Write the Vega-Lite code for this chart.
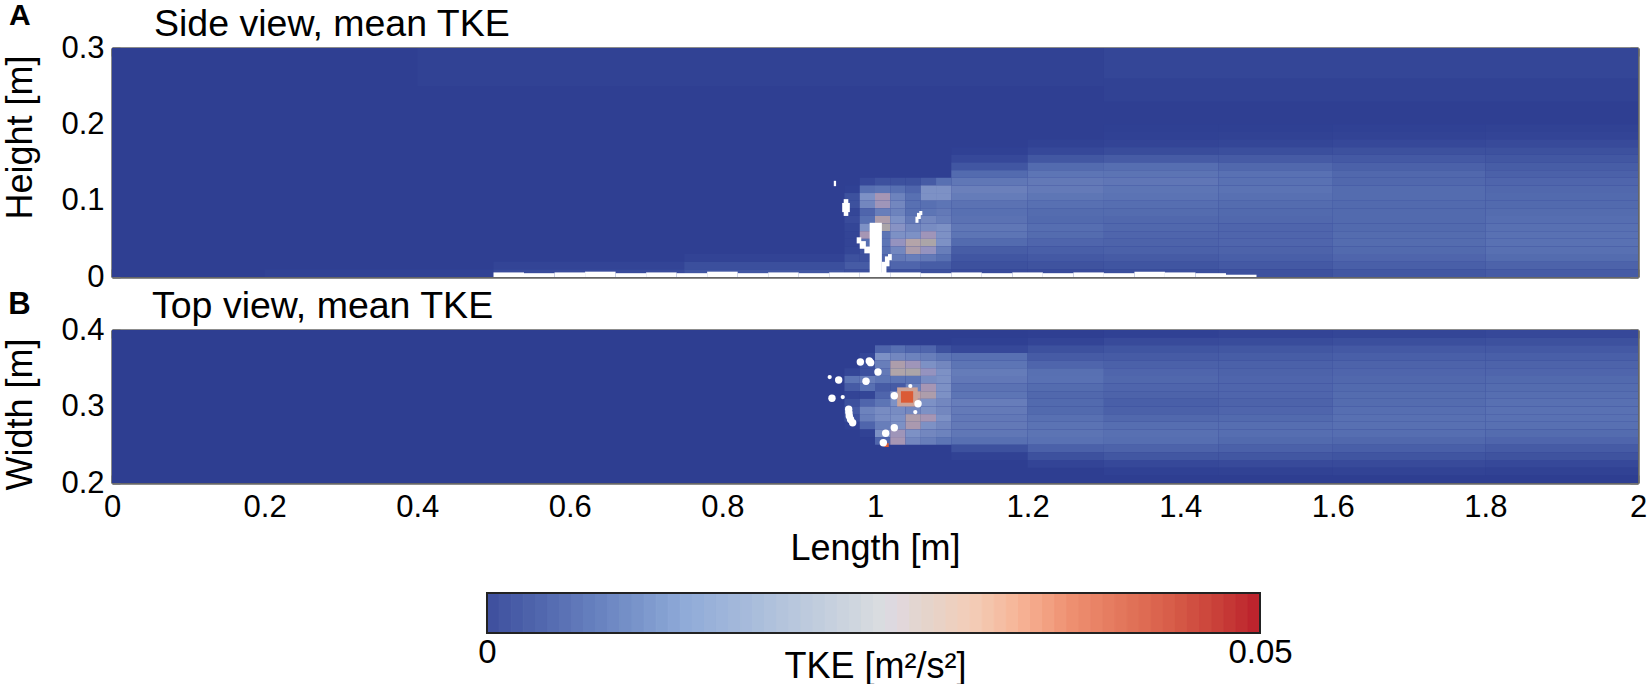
{"$schema":"https://vega.github.io/schema/vega-lite/v6.json","autosize":{"type":"pad"},"padding":{"left":2,"top":1,"right":0,"bottom":0},"background":"white","bounds":"flush","spacing":53,"resolve":{"scale":{"color":"independent","stroke":"independent"}},
"config":{"view":{"stroke":null},"font":"Liberation Sans","axis":{"grid":false,"domain":true,"domainColor":"#666666","domainWidth":2.5,"tickColor":"#707070","tickWidth":2,"tickSize":-8,"labelFont":"Liberation Sans","labelFontSize":31,"labelColor":"#000000","titleFont":"Liberation Sans","titleFontSize":36,"titleFontWeight":"normal","titleColor":"#000000","labelOverlap":false,"labelBound":false,"labelFlush":false,"zindex":1,"format":"~g"},"title":{"font":"Liberation Sans","fontSize":37.5,"fontWeight":"normal","color":"#000000","anchor":"start"}},
"datasets":{
"sideHeat":[
{"x":0,"x2":2,"y":0,"y2":0.3,"t":0.0003},
{"x":1.3,"x2":2,"y":0.23,"y2":0.26,"t":0.0006},{"x":1.3,"x2":2,"y":0.26,"y2":0.3,"t":0.001},{"x":0.4,"x2":1.3,"y":0.25,"y2":0.3,"t":0.0006},
{"x":0.2,"x2":0.5,"y":0,"y2":0.01,"t":0.0006},{"x":0.5,"x2":0.75,"y":0,"y2":0.01,"t":0.0015},{"x":0.5,"x2":0.75,"y":0.01,"y2":0.02,"t":0.0008},{"x":0.75,"x2":0.96,"y":0,"y2":0.01,"t":0.0025},{"x":0.75,"x2":0.96,"y":0.01,"y2":0.02,"t":0.0018},{"x":0.75,"x2":0.96,"y":0.02,"y2":0.03,"t":0.0007},
{"x":1.3,"x2":1.45,"y":0.19,"y2":0.2,"t":0.0004},{"x":1.45,"x2":1.6,"y":0.19,"y2":0.2,"t":0.0004},{"x":1.6,"x2":1.8,"y":0.19,"y2":0.2,"t":0.0005},{"x":1.8,"x2":2,"y":0.19,"y2":0.2,"t":0.0006},
{"x":1.3,"x2":1.45,"y":0.18,"y2":0.19,"t":0.0005},{"x":1.45,"x2":1.6,"y":0.18,"y2":0.19,"t":0.0006},{"x":1.6,"x2":1.8,"y":0.18,"y2":0.19,"t":0.0007},{"x":1.8,"x2":2,"y":0.18,"y2":0.19,"t":0.0008},
{"x":1.2,"x2":1.3,"y":0.17,"y2":0.18,"t":0.0006},{"x":1.3,"x2":1.45,"y":0.17,"y2":0.18,"t":0.0008},{"x":1.45,"x2":1.6,"y":0.17,"y2":0.18,"t":0.001},{"x":1.6,"x2":1.8,"y":0.17,"y2":0.18,"t":0.0012},{"x":1.8,"x2":2,"y":0.17,"y2":0.18,"t":0.0014},
{"x":1.1,"x2":1.2,"y":0.16,"y2":0.17,"t":0.0005},{"x":1.2,"x2":1.3,"y":0.16,"y2":0.17,"t":0.0012},{"x":1.3,"x2":1.45,"y":0.16,"y2":0.17,"t":0.0016},{"x":1.45,"x2":1.6,"y":0.16,"y2":0.17,"t":0.0018},{"x":1.6,"x2":1.8,"y":0.16,"y2":0.17,"t":0.002},{"x":1.8,"x2":2,"y":0.16,"y2":0.17,"t":0.002},
{"x":1.1,"x2":1.2,"y":0.15,"y2":0.16,"t":0.0012},{"x":1.2,"x2":1.3,"y":0.15,"y2":0.16,"t":0.0026},{"x":1.3,"x2":1.45,"y":0.15,"y2":0.16,"t":0.003},{"x":1.45,"x2":1.6,"y":0.15,"y2":0.16,"t":0.003},{"x":1.6,"x2":1.8,"y":0.15,"y2":0.16,"t":0.0028},{"x":1.8,"x2":2,"y":0.15,"y2":0.16,"t":0.0026},
{"x":1.1,"x2":1.2,"y":0.14,"y2":0.15,"t":0.0025},{"x":1.2,"x2":1.3,"y":0.14,"y2":0.15,"t":0.0045},{"x":1.3,"x2":1.45,"y":0.14,"y2":0.15,"t":0.0048},{"x":1.45,"x2":1.6,"y":0.14,"y2":0.15,"t":0.0042},{"x":1.6,"x2":1.8,"y":0.14,"y2":0.15,"t":0.0036},{"x":1.8,"x2":2,"y":0.14,"y2":0.15,"t":0.0032},
{"x":1.1,"x2":1.2,"y":0.13,"y2":0.14,"t":0.0045},{"x":1.2,"x2":1.3,"y":0.13,"y2":0.14,"t":0.006},{"x":1.3,"x2":1.45,"y":0.13,"y2":0.14,"t":0.0058},{"x":1.45,"x2":1.6,"y":0.13,"y2":0.14,"t":0.0052},{"x":1.6,"x2":1.8,"y":0.13,"y2":0.14,"t":0.0042},{"x":1.8,"x2":2,"y":0.13,"y2":0.14,"t":0.0036},
{"x":1.1,"x2":1.2,"y":0.12,"y2":0.13,"t":0.0065},{"x":1.2,"x2":1.3,"y":0.12,"y2":0.13,"t":0.007},{"x":1.3,"x2":1.45,"y":0.12,"y2":0.13,"t":0.0064},{"x":1.45,"x2":1.6,"y":0.12,"y2":0.13,"t":0.0052},{"x":1.6,"x2":1.8,"y":0.12,"y2":0.13,"t":0.0042},{"x":1.8,"x2":2,"y":0.12,"y2":0.13,"t":0.004},
{"x":1.1,"x2":1.2,"y":0.11,"y2":0.12,"t":0.0085},{"x":1.2,"x2":1.3,"y":0.11,"y2":0.12,"t":0.0072},{"x":1.3,"x2":1.45,"y":0.11,"y2":0.12,"t":0.006},{"x":1.45,"x2":1.6,"y":0.11,"y2":0.12,"t":0.0056},{"x":1.6,"x2":1.8,"y":0.11,"y2":0.12,"t":0.0046},{"x":1.8,"x2":2,"y":0.11,"y2":0.12,"t":0.0042},
{"x":1.1,"x2":1.2,"y":0.1,"y2":0.11,"t":0.0075},{"x":1.2,"x2":1.3,"y":0.1,"y2":0.11,"t":0.0062},{"x":1.3,"x2":1.45,"y":0.1,"y2":0.11,"t":0.0056},{"x":1.45,"x2":1.6,"y":0.1,"y2":0.11,"t":0.005},{"x":1.6,"x2":1.8,"y":0.1,"y2":0.11,"t":0.0046},{"x":1.8,"x2":2,"y":0.1,"y2":0.11,"t":0.0044},
{"x":1.1,"x2":1.2,"y":0.09,"y2":0.1,"t":0.0055},{"x":1.2,"x2":1.3,"y":0.09,"y2":0.1,"t":0.005},{"x":1.3,"x2":1.45,"y":0.09,"y2":0.1,"t":0.0048},{"x":1.45,"x2":1.6,"y":0.09,"y2":0.1,"t":0.0046},{"x":1.6,"x2":1.8,"y":0.09,"y2":0.1,"t":0.0044},{"x":1.8,"x2":2,"y":0.09,"y2":0.1,"t":0.0044},
{"x":1.1,"x2":1.2,"y":0.08,"y2":0.09,"t":0.005},{"x":1.2,"x2":1.3,"y":0.08,"y2":0.09,"t":0.0046},{"x":1.3,"x2":1.45,"y":0.08,"y2":0.09,"t":0.0046},{"x":1.45,"x2":1.6,"y":0.08,"y2":0.09,"t":0.0044},{"x":1.6,"x2":1.8,"y":0.08,"y2":0.09,"t":0.0044},{"x":1.8,"x2":2,"y":0.08,"y2":0.09,"t":0.0046},
{"x":1.1,"x2":1.2,"y":0.07,"y2":0.08,"t":0.0055},{"x":1.2,"x2":1.3,"y":0.07,"y2":0.08,"t":0.0044},{"x":1.3,"x2":1.45,"y":0.07,"y2":0.08,"t":0.0042},{"x":1.45,"x2":1.6,"y":0.07,"y2":0.08,"t":0.0042},{"x":1.6,"x2":1.8,"y":0.07,"y2":0.08,"t":0.0044},{"x":1.8,"x2":2,"y":0.07,"y2":0.08,"t":0.0048},
{"x":1.1,"x2":1.2,"y":0.06,"y2":0.07,"t":0.0065},{"x":1.2,"x2":1.3,"y":0.06,"y2":0.07,"t":0.0048},{"x":1.3,"x2":1.45,"y":0.06,"y2":0.07,"t":0.0042},{"x":1.45,"x2":1.6,"y":0.06,"y2":0.07,"t":0.004},{"x":1.6,"x2":1.8,"y":0.06,"y2":0.07,"t":0.0044},{"x":1.8,"x2":2,"y":0.06,"y2":0.07,"t":0.005},
{"x":1.1,"x2":1.2,"y":0.05,"y2":0.06,"t":0.006},{"x":1.2,"x2":1.3,"y":0.05,"y2":0.06,"t":0.0046},{"x":1.3,"x2":1.45,"y":0.05,"y2":0.06,"t":0.004},{"x":1.45,"x2":1.6,"y":0.05,"y2":0.06,"t":0.004},{"x":1.6,"x2":1.8,"y":0.05,"y2":0.06,"t":0.0046},{"x":1.8,"x2":2,"y":0.05,"y2":0.06,"t":0.0052},
{"x":1.1,"x2":1.2,"y":0.04,"y2":0.05,"t":0.0045},{"x":1.2,"x2":1.3,"y":0.04,"y2":0.05,"t":0.004},{"x":1.3,"x2":1.45,"y":0.04,"y2":0.05,"t":0.0038},{"x":1.45,"x2":1.6,"y":0.04,"y2":0.05,"t":0.004},{"x":1.6,"x2":1.8,"y":0.04,"y2":0.05,"t":0.0046},{"x":1.8,"x2":2,"y":0.04,"y2":0.05,"t":0.0052},
{"x":1.1,"x2":1.2,"y":0.03,"y2":0.04,"t":0.0032},{"x":1.2,"x2":1.3,"y":0.03,"y2":0.04,"t":0.0034},{"x":1.3,"x2":1.45,"y":0.03,"y2":0.04,"t":0.0036},{"x":1.45,"x2":1.6,"y":0.03,"y2":0.04,"t":0.0038},{"x":1.6,"x2":1.8,"y":0.03,"y2":0.04,"t":0.0044},{"x":1.8,"x2":2,"y":0.03,"y2":0.04,"t":0.005},
{"x":1.1,"x2":1.2,"y":0.02,"y2":0.03,"t":0.0025},{"x":1.2,"x2":1.3,"y":0.02,"y2":0.03,"t":0.0028},{"x":1.3,"x2":1.45,"y":0.02,"y2":0.03,"t":0.003},{"x":1.45,"x2":1.6,"y":0.02,"y2":0.03,"t":0.0034},{"x":1.6,"x2":1.8,"y":0.02,"y2":0.03,"t":0.004},{"x":1.8,"x2":2,"y":0.02,"y2":0.03,"t":0.0046},
{"x":1.1,"x2":1.2,"y":0.01,"y2":0.02,"t":0.002},{"x":1.2,"x2":1.3,"y":0.01,"y2":0.02,"t":0.0022},{"x":1.3,"x2":1.45,"y":0.01,"y2":0.02,"t":0.0024},{"x":1.45,"x2":1.6,"y":0.01,"y2":0.02,"t":0.0028},{"x":1.6,"x2":1.8,"y":0.01,"y2":0.02,"t":0.0034},{"x":1.8,"x2":2,"y":0.01,"y2":0.02,"t":0.0038},
{"x":1.1,"x2":1.2,"y":0,"y2":0.01,"t":0.0015},{"x":1.2,"x2":1.3,"y":0,"y2":0.01,"t":0.0015},{"x":1.3,"x2":1.45,"y":0,"y2":0.01,"t":0.0018},{"x":1.45,"x2":1.6,"y":0,"y2":0.01,"t":0.002},{"x":1.6,"x2":1.8,"y":0,"y2":0.01,"t":0.0026},{"x":1.8,"x2":2,"y":0,"y2":0.01,"t":0.003},
{"x":0.98,"x2":1,"y":0.12,"y2":0.13,"t":0.0012},{"x":1,"x2":1.02,"y":0.12,"y2":0.13,"t":0.002},{"x":1.02,"x2":1.04,"y":0.12,"y2":0.13,"t":0.002},{"x":1.04,"x2":1.06,"y":0.12,"y2":0.13,"t":0.002},{"x":1.06,"x2":1.08,"y":0.12,"y2":0.13,"t":0.003},{"x":1.08,"x2":1.1,"y":0.12,"y2":0.13,"t":0.005},
{"x":0.96,"x2":0.98,"y":0.11,"y2":0.12,"t":0.0005},{"x":0.98,"x2":1,"y":0.11,"y2":0.12,"t":0.005},{"x":1,"x2":1.02,"y":0.11,"y2":0.12,"t":0.006},{"x":1.02,"x2":1.04,"y":0.11,"y2":0.12,"t":0.005},{"x":1.04,"x2":1.06,"y":0.11,"y2":0.12,"t":0.004},{"x":1.06,"x2":1.08,"y":0.11,"y2":0.12,"t":0.012},{"x":1.08,"x2":1.1,"y":0.11,"y2":0.12,"t":0.012},
{"x":0.96,"x2":0.98,"y":0.1,"y2":0.11,"t":0.002},{"x":0.98,"x2":1,"y":0.1,"y2":0.11,"t":0.012},{"x":1,"x2":1.02,"y":0.1,"y2":0.11,"t":0.016},{"x":1.02,"x2":1.04,"y":0.1,"y2":0.11,"t":0.009},{"x":1.04,"x2":1.06,"y":0.1,"y2":0.11,"t":0.005},{"x":1.06,"x2":1.08,"y":0.1,"y2":0.11,"t":0.012},{"x":1.08,"x2":1.1,"y":0.1,"y2":0.11,"t":0.012},
{"x":0.96,"x2":0.98,"y":0.09,"y2":0.1,"t":0.002},{"x":0.98,"x2":1,"y":0.09,"y2":0.1,"t":0.01},{"x":1,"x2":1.02,"y":0.09,"y2":0.1,"t":0.015},{"x":1.02,"x2":1.04,"y":0.09,"y2":0.1,"t":0.01},{"x":1.04,"x2":1.06,"y":0.09,"y2":0.1,"t":0.005},{"x":1.06,"x2":1.08,"y":0.09,"y2":0.1,"t":0.005},{"x":1.08,"x2":1.1,"y":0.09,"y2":0.1,"t":0.006},
{"x":0.96,"x2":0.98,"y":0.08,"y2":0.09,"t":0.001},{"x":0.98,"x2":1,"y":0.08,"y2":0.09,"t":0.004},{"x":1,"x2":1.02,"y":0.08,"y2":0.09,"t":0.008},{"x":1.02,"x2":1.04,"y":0.08,"y2":0.09,"t":0.009},{"x":1.04,"x2":1.06,"y":0.08,"y2":0.09,"t":0.005},{"x":1.06,"x2":1.08,"y":0.08,"y2":0.09,"t":0.006},{"x":1.08,"x2":1.1,"y":0.08,"y2":0.09,"t":0.007},
{"x":0.96,"x2":0.98,"y":0.07,"y2":0.08,"t":0.0015},{"x":0.98,"x2":1,"y":0.07,"y2":0.08,"t":0.005},{"x":1,"x2":1.02,"y":0.07,"y2":0.08,"t":0.018},{"x":1.02,"x2":1.04,"y":0.07,"y2":0.08,"t":0.012},{"x":1.04,"x2":1.06,"y":0.07,"y2":0.08,"t":0.007},{"x":1.06,"x2":1.08,"y":0.07,"y2":0.08,"t":0.01},{"x":1.08,"x2":1.1,"y":0.07,"y2":0.08,"t":0.008},
{"x":0.96,"x2":0.98,"y":0.06,"y2":0.07,"t":0.001},{"x":0.98,"x2":1,"y":0.06,"y2":0.07,"t":0.012},{"x":1,"x2":1.02,"y":0.06,"y2":0.07,"t":0.02},{"x":1.02,"x2":1.04,"y":0.06,"y2":0.07,"t":0.013},{"x":1.04,"x2":1.06,"y":0.06,"y2":0.07,"t":0.01},{"x":1.06,"x2":1.08,"y":0.06,"y2":0.07,"t":0.011},{"x":1.08,"x2":1.1,"y":0.06,"y2":0.07,"t":0.012},
{"x":0.96,"x2":0.98,"y":0.05,"y2":0.06,"t":0.0008},{"x":0.98,"x2":1,"y":0.05,"y2":0.06,"t":0.016},{"x":1,"x2":1.02,"y":0.05,"y2":0.06,"t":0.006},{"x":1.02,"x2":1.04,"y":0.05,"y2":0.06,"t":0.012},{"x":1.04,"x2":1.06,"y":0.05,"y2":0.06,"t":0.012},{"x":1.06,"x2":1.08,"y":0.05,"y2":0.06,"t":0.015},{"x":1.08,"x2":1.1,"y":0.05,"y2":0.06,"t":0.012},
{"x":0.96,"x2":0.98,"y":0.04,"y2":0.05,"t":0.0008},{"x":0.98,"x2":1,"y":0.04,"y2":0.05,"t":0.005},{"x":1,"x2":1.02,"y":0.04,"y2":0.05,"t":0.006},{"x":1.02,"x2":1.04,"y":0.04,"y2":0.05,"t":0.014},{"x":1.04,"x2":1.06,"y":0.04,"y2":0.05,"t":0.022},{"x":1.06,"x2":1.08,"y":0.04,"y2":0.05,"t":0.02},{"x":1.08,"x2":1.1,"y":0.04,"y2":0.05,"t":0.012},
{"x":0.96,"x2":0.98,"y":0.03,"y2":0.04,"t":0.001},{"x":0.98,"x2":1,"y":0.03,"y2":0.04,"t":0.002},{"x":1,"x2":1.02,"y":0.03,"y2":0.04,"t":0.005},{"x":1.02,"x2":1.04,"y":0.03,"y2":0.04,"t":0.01},{"x":1.04,"x2":1.06,"y":0.03,"y2":0.04,"t":0.018},{"x":1.06,"x2":1.08,"y":0.03,"y2":0.04,"t":0.014},{"x":1.08,"x2":1.1,"y":0.03,"y2":0.04,"t":0.008},
{"x":0.96,"x2":0.98,"y":0.02,"y2":0.03,"t":0.002},{"x":0.98,"x2":1,"y":0.02,"y2":0.03,"t":0.002},{"x":1,"x2":1.02,"y":0.02,"y2":0.03,"t":0.004},{"x":1.02,"x2":1.04,"y":0.02,"y2":0.03,"t":0.007},{"x":1.04,"x2":1.06,"y":0.02,"y2":0.03,"t":0.008},{"x":1.06,"x2":1.08,"y":0.02,"y2":0.03,"t":0.007},{"x":1.08,"x2":1.1,"y":0.02,"y2":0.03,"t":0.005},
{"x":0.96,"x2":1.02,"y":0.01,"y2":0.02,"t":0.003},{"x":1.02,"x2":1.06,"y":0.01,"y2":0.02,"t":0.004},{"x":1.06,"x2":1.1,"y":0.01,"y2":0.02,"t":0.0032},{"x":0.96,"x2":1.1,"y":0,"y2":0.01,"t":0.002}
],
"sideSolid":[
{"x":0.5,"x2":0.54,"y":0,"y2":0.006},{"x":0.54,"x2":0.58,"y":0,"y2":0.005},{"x":0.58,"x2":0.62,"y":0,"y2":0.006},{"x":0.62,"x2":0.66,"y":0,"y2":0.007},{"x":0.66,"x2":0.7,"y":0,"y2":0.005},{"x":0.7,"x2":0.74,"y":0,"y2":0.006},{"x":0.74,"x2":0.78,"y":0,"y2":0.005},{"x":0.78,"x2":0.82,"y":0,"y2":0.007},{"x":0.82,"x2":0.86,"y":0,"y2":0.005},{"x":0.86,"x2":0.9,"y":0,"y2":0.006},{"x":0.9,"x2":0.94,"y":0,"y2":0.005},{"x":0.94,"x2":0.98,"y":0,"y2":0.006},{"x":0.98,"x2":1.02,"y":0,"y2":0.006},{"x":1.02,"x2":1.06,"y":0,"y2":0.006},{"x":1.06,"x2":1.1,"y":0,"y2":0.005},{"x":1.1,"x2":1.14,"y":0,"y2":0.006},{"x":1.14,"x2":1.18,"y":0,"y2":0.005},{"x":1.18,"x2":1.22,"y":0,"y2":0.006},{"x":1.22,"x2":1.26,"y":0,"y2":0.005},{"x":1.26,"x2":1.3,"y":0,"y2":0.006},{"x":1.3,"x2":1.34,"y":0,"y2":0.005},{"x":1.34,"x2":1.38,"y":0,"y2":0.007},{"x":1.38,"x2":1.42,"y":0,"y2":0.006},{"x":1.42,"x2":1.46,"y":0,"y2":0.005},{"x":1.46,"x2":1.5,"y":0,"y2":0.003},
{"x":0.993,"x2":1.009,"y":0,"y2":0.071},{"x":0.976,"x2":0.982,"y":0.044,"y2":0.052},{"x":0.98,"x2":0.988,"y":0.037,"y2":0.047},{"x":0.986,"x2":0.994,"y":0.031,"y2":0.04},{"x":1.009,"x2":1.015,"y":0.005,"y2":0.02},{"x":1.013,"x2":1.019,"y":0.014,"y2":0.027},{"x":1.017,"x2":1.022,"y":0.022,"y2":0.03},{"x":0.959,"x2":0.965,"y":0.08,"y2":0.102},{"x":0.957,"x2":0.967,"y":0.085,"y2":0.097},{"x":1.053,"x2":1.057,"y":0.071,"y2":0.079},{"x":1.055,"x2":1.06,"y":0.076,"y2":0.084},{"x":1.058,"x2":1.062,"y":0.081,"y2":0.0865},{"x":0.946,"x2":0.949,"y":0.119,"y2":0.126}
],
"topHeat":[
{"x":0,"x2":2,"y":0.2,"y2":0.4,"t":0.0002},
{"x":1.2,"x2":1.3,"y":0.39,"y2":0.4,"t":0.0003},{"x":1.3,"x2":1.45,"y":0.39,"y2":0.4,"t":0.0005},{"x":1.45,"x2":1.6,"y":0.39,"y2":0.4,"t":0.0008},{"x":1.6,"x2":1.8,"y":0.39,"y2":0.4,"t":0.001},{"x":1.8,"x2":2,"y":0.39,"y2":0.4,"t":0.0012},
{"x":1.1,"x2":1.2,"y":0.38,"y2":0.39,"t":0.0004},{"x":1.2,"x2":1.3,"y":0.38,"y2":0.39,"t":0.0008},{"x":1.3,"x2":1.45,"y":0.38,"y2":0.39,"t":0.0014},{"x":1.45,"x2":1.6,"y":0.38,"y2":0.39,"t":0.0016},{"x":1.6,"x2":1.8,"y":0.38,"y2":0.39,"t":0.0018},{"x":1.8,"x2":2,"y":0.38,"y2":0.39,"t":0.002},
{"x":1.1,"x2":1.2,"y":0.37,"y2":0.38,"t":0.0012},{"x":1.2,"x2":1.3,"y":0.37,"y2":0.38,"t":0.002},{"x":1.3,"x2":1.45,"y":0.37,"y2":0.38,"t":0.0024},{"x":1.45,"x2":1.6,"y":0.37,"y2":0.38,"t":0.0026},{"x":1.6,"x2":1.8,"y":0.37,"y2":0.38,"t":0.0028},{"x":1.8,"x2":2,"y":0.37,"y2":0.38,"t":0.0028},
{"x":1.1,"x2":1.2,"y":0.36,"y2":0.37,"t":0.005},{"x":1.2,"x2":1.3,"y":0.36,"y2":0.37,"t":0.003},{"x":1.3,"x2":1.45,"y":0.36,"y2":0.37,"t":0.003},{"x":1.45,"x2":1.6,"y":0.36,"y2":0.37,"t":0.0032},{"x":1.6,"x2":1.8,"y":0.36,"y2":0.37,"t":0.0034},{"x":1.8,"x2":2,"y":0.36,"y2":0.37,"t":0.0034},
{"x":1.1,"x2":1.2,"y":0.35,"y2":0.36,"t":0.006},{"x":1.2,"x2":1.3,"y":0.35,"y2":0.36,"t":0.004},{"x":1.3,"x2":1.45,"y":0.35,"y2":0.36,"t":0.0036},{"x":1.45,"x2":1.6,"y":0.35,"y2":0.36,"t":0.0036},{"x":1.6,"x2":1.8,"y":0.35,"y2":0.36,"t":0.0038},{"x":1.8,"x2":2,"y":0.35,"y2":0.36,"t":0.0038},
{"x":1.1,"x2":1.2,"y":0.34,"y2":0.35,"t":0.0075},{"x":1.2,"x2":1.3,"y":0.34,"y2":0.35,"t":0.005},{"x":1.3,"x2":1.45,"y":0.34,"y2":0.35,"t":0.004},{"x":1.45,"x2":1.6,"y":0.34,"y2":0.35,"t":0.0038},{"x":1.6,"x2":1.8,"y":0.34,"y2":0.35,"t":0.004},{"x":1.8,"x2":2,"y":0.34,"y2":0.35,"t":0.004},
{"x":1.1,"x2":1.2,"y":0.33,"y2":0.34,"t":0.0068},{"x":1.2,"x2":1.3,"y":0.33,"y2":0.34,"t":0.0052},{"x":1.3,"x2":1.45,"y":0.33,"y2":0.34,"t":0.0042},{"x":1.45,"x2":1.6,"y":0.33,"y2":0.34,"t":0.004},{"x":1.6,"x2":1.8,"y":0.33,"y2":0.34,"t":0.0042},{"x":1.8,"x2":2,"y":0.33,"y2":0.34,"t":0.0044},
{"x":1.1,"x2":1.2,"y":0.32,"y2":0.33,"t":0.0055},{"x":1.2,"x2":1.3,"y":0.32,"y2":0.33,"t":0.0046},{"x":1.3,"x2":1.45,"y":0.32,"y2":0.33,"t":0.004},{"x":1.45,"x2":1.6,"y":0.32,"y2":0.33,"t":0.004},{"x":1.6,"x2":1.8,"y":0.32,"y2":0.33,"t":0.0044},{"x":1.8,"x2":2,"y":0.32,"y2":0.33,"t":0.0046},
{"x":1.1,"x2":1.2,"y":0.31,"y2":0.32,"t":0.006},{"x":1.2,"x2":1.3,"y":0.31,"y2":0.32,"t":0.0042},{"x":1.3,"x2":1.45,"y":0.31,"y2":0.32,"t":0.0038},{"x":1.45,"x2":1.6,"y":0.31,"y2":0.32,"t":0.004},{"x":1.6,"x2":1.8,"y":0.31,"y2":0.32,"t":0.0046},{"x":1.8,"x2":2,"y":0.31,"y2":0.32,"t":0.0048},
{"x":1.1,"x2":1.2,"y":0.3,"y2":0.31,"t":0.0078},{"x":1.2,"x2":1.3,"y":0.3,"y2":0.31,"t":0.0044},{"x":1.3,"x2":1.45,"y":0.3,"y2":0.31,"t":0.0034},{"x":1.45,"x2":1.6,"y":0.3,"y2":0.31,"t":0.0038},{"x":1.6,"x2":1.8,"y":0.3,"y2":0.31,"t":0.0046},{"x":1.8,"x2":2,"y":0.3,"y2":0.31,"t":0.005},
{"x":1.1,"x2":1.2,"y":0.29,"y2":0.3,"t":0.0072},{"x":1.2,"x2":1.3,"y":0.29,"y2":0.3,"t":0.0044},{"x":1.3,"x2":1.45,"y":0.29,"y2":0.3,"t":0.0036},{"x":1.45,"x2":1.6,"y":0.29,"y2":0.3,"t":0.004},{"x":1.6,"x2":1.8,"y":0.29,"y2":0.3,"t":0.0048},{"x":1.8,"x2":2,"y":0.29,"y2":0.3,"t":0.0052},
{"x":1.1,"x2":1.2,"y":0.28,"y2":0.29,"t":0.0068},{"x":1.2,"x2":1.3,"y":0.28,"y2":0.29,"t":0.005},{"x":1.3,"x2":1.45,"y":0.28,"y2":0.29,"t":0.0042},{"x":1.45,"x2":1.6,"y":0.28,"y2":0.29,"t":0.0044},{"x":1.6,"x2":1.8,"y":0.28,"y2":0.29,"t":0.005},{"x":1.8,"x2":2,"y":0.28,"y2":0.29,"t":0.0052},
{"x":1.1,"x2":1.2,"y":0.27,"y2":0.28,"t":0.007},{"x":1.2,"x2":1.3,"y":0.27,"y2":0.28,"t":0.0056},{"x":1.3,"x2":1.45,"y":0.27,"y2":0.28,"t":0.0048},{"x":1.45,"x2":1.6,"y":0.27,"y2":0.28,"t":0.0048},{"x":1.6,"x2":1.8,"y":0.27,"y2":0.28,"t":0.005},{"x":1.8,"x2":2,"y":0.27,"y2":0.28,"t":0.005},
{"x":1.1,"x2":1.2,"y":0.26,"y2":0.27,"t":0.0065},{"x":1.2,"x2":1.3,"y":0.26,"y2":0.27,"t":0.0058},{"x":1.3,"x2":1.45,"y":0.26,"y2":0.27,"t":0.005},{"x":1.45,"x2":1.6,"y":0.26,"y2":0.27,"t":0.0048},{"x":1.6,"x2":1.8,"y":0.26,"y2":0.27,"t":0.0048},{"x":1.8,"x2":2,"y":0.26,"y2":0.27,"t":0.0046},
{"x":1.1,"x2":1.2,"y":0.25,"y2":0.26,"t":0.005},{"x":1.2,"x2":1.3,"y":0.25,"y2":0.26,"t":0.0052},{"x":1.3,"x2":1.45,"y":0.25,"y2":0.26,"t":0.0048},{"x":1.45,"x2":1.6,"y":0.25,"y2":0.26,"t":0.0044},{"x":1.6,"x2":1.8,"y":0.25,"y2":0.26,"t":0.0042},{"x":1.8,"x2":2,"y":0.25,"y2":0.26,"t":0.004},
{"x":1.1,"x2":1.2,"y":0.24,"y2":0.25,"t":0.002},{"x":1.2,"x2":1.3,"y":0.24,"y2":0.25,"t":0.0036},{"x":1.3,"x2":1.45,"y":0.24,"y2":0.25,"t":0.0038},{"x":1.45,"x2":1.6,"y":0.24,"y2":0.25,"t":0.0036},{"x":1.6,"x2":1.8,"y":0.24,"y2":0.25,"t":0.0034},{"x":1.8,"x2":2,"y":0.24,"y2":0.25,"t":0.003},
{"x":1.1,"x2":1.2,"y":0.23,"y2":0.24,"t":0.0006},{"x":1.2,"x2":1.3,"y":0.23,"y2":0.24,"t":0.002},{"x":1.3,"x2":1.45,"y":0.23,"y2":0.24,"t":0.0026},{"x":1.45,"x2":1.6,"y":0.23,"y2":0.24,"t":0.0026},{"x":1.6,"x2":1.8,"y":0.23,"y2":0.24,"t":0.0024},{"x":1.8,"x2":2,"y":0.23,"y2":0.24,"t":0.0022},
{"x":1.2,"x2":1.3,"y":0.22,"y2":0.23,"t":0.0008},{"x":1.3,"x2":1.45,"y":0.22,"y2":0.23,"t":0.0012},{"x":1.45,"x2":1.6,"y":0.22,"y2":0.23,"t":0.0014},{"x":1.6,"x2":1.8,"y":0.22,"y2":0.23,"t":0.0014},{"x":1.8,"x2":2,"y":0.22,"y2":0.23,"t":0.0012},
{"x":1.3,"x2":1.45,"y":0.21,"y2":0.22,"t":0.0005},{"x":1.45,"x2":1.6,"y":0.21,"y2":0.22,"t":0.0006},{"x":1.6,"x2":1.8,"y":0.21,"y2":0.22,"t":0.0007},{"x":1.8,"x2":2,"y":0.21,"y2":0.22,"t":0.0006},
{"x":1,"x2":1.02,"y":0.37,"y2":0.38,"t":0.004},{"x":1.02,"x2":1.04,"y":0.37,"y2":0.38,"t":0.005},{"x":1.04,"x2":1.06,"y":0.37,"y2":0.38,"t":0.004},{"x":1.06,"x2":1.08,"y":0.37,"y2":0.38,"t":0.004},{"x":1.08,"x2":1.1,"y":0.37,"y2":0.38,"t":0.002},
{"x":0.98,"x2":1,"y":0.36,"y2":0.37,"t":0.001},{"x":1,"x2":1.02,"y":0.36,"y2":0.37,"t":0.012},{"x":1.02,"x2":1.04,"y":0.36,"y2":0.37,"t":0.01},{"x":1.04,"x2":1.06,"y":0.36,"y2":0.37,"t":0.009},{"x":1.06,"x2":1.08,"y":0.36,"y2":0.37,"t":0.008},{"x":1.08,"x2":1.1,"y":0.36,"y2":0.37,"t":0.006},
{"x":0.98,"x2":1,"y":0.35,"y2":0.36,"t":0.002},{"x":1,"x2":1.02,"y":0.35,"y2":0.36,"t":0.008},{"x":1.02,"x2":1.04,"y":0.35,"y2":0.36,"t":0.018},{"x":1.04,"x2":1.06,"y":0.35,"y2":0.36,"t":0.015},{"x":1.06,"x2":1.08,"y":0.35,"y2":0.36,"t":0.012},{"x":1.08,"x2":1.1,"y":0.35,"y2":0.36,"t":0.01},
{"x":0.96,"x2":0.98,"y":0.34,"y2":0.35,"t":0.001},{"x":0.98,"x2":1,"y":0.34,"y2":0.35,"t":0.002},{"x":1,"x2":1.02,"y":0.34,"y2":0.35,"t":0.007},{"x":1.02,"x2":1.04,"y":0.34,"y2":0.35,"t":0.021},{"x":1.04,"x2":1.06,"y":0.34,"y2":0.35,"t":0.02},{"x":1.06,"x2":1.08,"y":0.34,"y2":0.35,"t":0.014},{"x":1.08,"x2":1.1,"y":0.34,"y2":0.35,"t":0.012},
{"x":0.96,"x2":0.98,"y":0.33,"y2":0.34,"t":0.006},{"x":0.98,"x2":1,"y":0.33,"y2":0.34,"t":0.008},{"x":1,"x2":1.02,"y":0.33,"y2":0.34,"t":0.006},{"x":1.02,"x2":1.04,"y":0.33,"y2":0.34,"t":0.006},{"x":1.04,"x2":1.06,"y":0.33,"y2":0.34,"t":0.006},{"x":1.06,"x2":1.08,"y":0.33,"y2":0.34,"t":0.011},{"x":1.08,"x2":1.1,"y":0.33,"y2":0.34,"t":0.012},
{"x":0.96,"x2":0.98,"y":0.32,"y2":0.33,"t":0.003},{"x":0.98,"x2":1,"y":0.32,"y2":0.33,"t":0.005},{"x":1,"x2":1.02,"y":0.32,"y2":0.33,"t":0.003},{"x":1.02,"x2":1.04,"y":0.32,"y2":0.33,"t":0.003},{"x":1.04,"x2":1.06,"y":0.32,"y2":0.33,"t":0.009},{"x":1.06,"x2":1.08,"y":0.32,"y2":0.33,"t":0.016},{"x":1.08,"x2":1.1,"y":0.32,"y2":0.33,"t":0.012},
{"x":0.96,"x2":0.98,"y":0.31,"y2":0.32,"t":0.0008},{"x":0.98,"x2":1,"y":0.31,"y2":0.32,"t":0.001},{"x":1,"x2":1.02,"y":0.31,"y2":0.32,"t":0.004},{"x":1.02,"x2":1.04,"y":0.31,"y2":0.32,"t":0.012},{"x":1.04,"x2":1.06,"y":0.31,"y2":0.32,"t":0.026},{"x":1.06,"x2":1.08,"y":0.31,"y2":0.32,"t":0.018},{"x":1.08,"x2":1.1,"y":0.31,"y2":0.32,"t":0.012},
{"x":0.96,"x2":0.98,"y":0.3,"y2":0.31,"t":0.002},{"x":0.98,"x2":1,"y":0.3,"y2":0.31,"t":0.004},{"x":1,"x2":1.02,"y":0.3,"y2":0.31,"t":0.006},{"x":1.02,"x2":1.04,"y":0.3,"y2":0.31,"t":0.012},{"x":1.04,"x2":1.06,"y":0.3,"y2":0.31,"t":0.018},{"x":1.06,"x2":1.08,"y":0.3,"y2":0.31,"t":0.012},{"x":1.08,"x2":1.1,"y":0.3,"y2":0.31,"t":0.01},
{"x":0.96,"x2":0.98,"y":0.29,"y2":0.3,"t":0.003},{"x":0.98,"x2":1,"y":0.29,"y2":0.3,"t":0.009},{"x":1,"x2":1.02,"y":0.29,"y2":0.3,"t":0.011},{"x":1.02,"x2":1.04,"y":0.29,"y2":0.3,"t":0.011},{"x":1.04,"x2":1.06,"y":0.29,"y2":0.3,"t":0.01},{"x":1.06,"x2":1.08,"y":0.29,"y2":0.3,"t":0.012},{"x":1.08,"x2":1.1,"y":0.29,"y2":0.3,"t":0.01},
{"x":0.96,"x2":0.98,"y":0.28,"y2":0.29,"t":0.002},{"x":0.98,"x2":1,"y":0.28,"y2":0.29,"t":0.008},{"x":1,"x2":1.02,"y":0.28,"y2":0.29,"t":0.011},{"x":1.02,"x2":1.04,"y":0.28,"y2":0.29,"t":0.012},{"x":1.04,"x2":1.06,"y":0.28,"y2":0.29,"t":0.018},{"x":1.06,"x2":1.08,"y":0.28,"y2":0.29,"t":0.016},{"x":1.08,"x2":1.1,"y":0.28,"y2":0.29,"t":0.012},
{"x":0.96,"x2":0.98,"y":0.27,"y2":0.28,"t":0.0005},{"x":0.98,"x2":1,"y":0.27,"y2":0.28,"t":0.004},{"x":1,"x2":1.02,"y":0.27,"y2":0.28,"t":0.008},{"x":1.02,"x2":1.04,"y":0.27,"y2":0.28,"t":0.012},{"x":1.04,"x2":1.06,"y":0.27,"y2":0.28,"t":0.017},{"x":1.06,"x2":1.08,"y":0.27,"y2":0.28,"t":0.012},{"x":1.08,"x2":1.1,"y":0.27,"y2":0.28,"t":0.01},
{"x":0.98,"x2":1,"y":0.26,"y2":0.27,"t":0.0006},{"x":1,"x2":1.02,"y":0.26,"y2":0.27,"t":0.012},{"x":1.02,"x2":1.04,"y":0.26,"y2":0.27,"t":0.015},{"x":1.04,"x2":1.06,"y":0.26,"y2":0.27,"t":0.012},{"x":1.06,"x2":1.08,"y":0.26,"y2":0.27,"t":0.01},{"x":1.08,"x2":1.1,"y":0.26,"y2":0.27,"t":0.009},
{"x":1,"x2":1.02,"y":0.25,"y2":0.26,"t":0.004},{"x":1.02,"x2":1.04,"y":0.25,"y2":0.26,"t":0.016},{"x":1.04,"x2":1.06,"y":0.25,"y2":0.26,"t":0.01},{"x":1.06,"x2":1.08,"y":0.25,"y2":0.26,"t":0.008},{"x":1.08,"x2":1.1,"y":0.25,"y2":0.26,"t":0.006},
{"x":1.029,"x2":1.056,"y":0.3,"y2":0.325,"t":0.028},{"x":1.034,"x2":1.05,"y":0.305,"y2":0.32,"t":0.042},{"x":1.012,"x2":1.018,"y":0.247,"y2":0.252,"t":0.042}
],
"topBlobs":[{"x":0.9524,"y":0.3346},{"x":0.9882,"y":0.3329},{"x":0.9808,"y":0.3581},{"x":0.9925,"y":0.3595},{"x":0.9943,"y":0.3573},{"x":1.0039,"y":0.3451},{"x":1.0253,"y":0.3141},{"x":1.0564,"y":0.3037},{"x":0.9436,"y":0.3107},{"x":0.9655,"y":0.2963},{"x":0.9663,"y":0.2876},{"x":0.9707,"y":0.2788},{"x":0.968,"y":0.283},{"x":0.9658,"y":0.292},{"x":1.0253,"y":0.2723},{"x":1.014,"y":0.265},{"x":1.0109,"y":0.2527}],
"topSpecks":[{"x":0.9406,"y":0.3385},{"x":1.0463,"y":0.3268},{"x":1.0528,"y":0.2928},{"x":0.9577,"y":0.3124}],
"bar":[{"x":0,"x2":0.00078},{"x":0.00078,"x2":0.00156},{"x":0.00156,"x2":0.00234},{"x":0.00234,"x2":0.00313},{"x":0.00313,"x2":0.00391},{"x":0.00391,"x2":0.00469},{"x":0.00469,"x2":0.00547},{"x":0.00547,"x2":0.00625},{"x":0.00625,"x2":0.00703},{"x":0.00703,"x2":0.00781},{"x":0.00781,"x2":0.00859},{"x":0.00859,"x2":0.00938},{"x":0.00938,"x2":0.01016},{"x":0.01016,"x2":0.01094},{"x":0.01094,"x2":0.01172},{"x":0.01172,"x2":0.0125},{"x":0.0125,"x2":0.01328},{"x":0.01328,"x2":0.01406},{"x":0.01406,"x2":0.01484},{"x":0.01484,"x2":0.01563},{"x":0.01563,"x2":0.01641},{"x":0.01641,"x2":0.01719},{"x":0.01719,"x2":0.01797},{"x":0.01797,"x2":0.01875},{"x":0.01875,"x2":0.01953},{"x":0.01953,"x2":0.02031},{"x":0.02031,"x2":0.02109},{"x":0.02109,"x2":0.02188},{"x":0.02188,"x2":0.02266},{"x":0.02266,"x2":0.02344},{"x":0.02344,"x2":0.02422},{"x":0.02422,"x2":0.025},{"x":0.025,"x2":0.02578},{"x":0.02578,"x2":0.02656},{"x":0.02656,"x2":0.02734},{"x":0.02734,"x2":0.02813},{"x":0.02813,"x2":0.02891},{"x":0.02891,"x2":0.02969},{"x":0.02969,"x2":0.03047},{"x":0.03047,"x2":0.03125},{"x":0.03125,"x2":0.03203},{"x":0.03203,"x2":0.03281},{"x":0.03281,"x2":0.03359},{"x":0.03359,"x2":0.03438},{"x":0.03438,"x2":0.03516},{"x":0.03516,"x2":0.03594},{"x":0.03594,"x2":0.03672},{"x":0.03672,"x2":0.0375},{"x":0.0375,"x2":0.03828},{"x":0.03828,"x2":0.03906},{"x":0.03906,"x2":0.03984},{"x":0.03984,"x2":0.04063},{"x":0.04063,"x2":0.04141},{"x":0.04141,"x2":0.04219},{"x":0.04219,"x2":0.04297},{"x":0.04297,"x2":0.04375},{"x":0.04375,"x2":0.04453},{"x":0.04453,"x2":0.04531},{"x":0.04531,"x2":0.04609},{"x":0.04609,"x2":0.04688},{"x":0.04688,"x2":0.04766},{"x":0.04766,"x2":0.04844},{"x":0.04844,"x2":0.04922},{"x":0.04922,"x2":0.05}]
},
"vconcat":[
{"width":1526,"height":229,"title":{"text":"Side view, mean TKE","dx":152,"offset":-42},"resolve":{"axis":{"x":"independent","y":"independent"}},"layer":[
{"data":{"name":"sideHeat"},"mark":{"type":"rect"},"encoding":{
"x":{"field":"x","type":"quantitative","scale":{"domain":[0,2]},"axis":{"orient":"bottom","values":[0,0.2,0.4,0.6,0.8,1,1.2,1.4,1.6,1.8,2],"labels":false,"title":null}},"x2":{"field":"x2"},
"y":{"field":"y","type":"quantitative","scale":{"domain":[0,0.3]},"axis":{"orient":"left","values":[0,0.05,0.1,0.15,0.2,0.25,0.3],"labelExpr":"indexof(['0','0.1','0.2','0.3'],datum.label)>=0?datum.label:''","labelPadding":16,"title":"Height [m]","titleX":-73,"titleY":89}},"y2":{"field":"y2"},
"color":{"field":"t","type":"quantitative","legend":null,"scale":{"domain":[0,0.005,0.0125,0.02,0.03,0.042,0.05],"range":["#2C3C90","#5870B2","#8093C6","#ABA5A8","#CFA58E","#DB5B36","#B9162A"]}}}},
{"data":{"name":"sideSolid"},"mark":{"type":"rect","color":"white"},"encoding":{
"x":{"field":"x","type":"quantitative","scale":{"domain":[0,2]},"axis":{"orient":"top","values":[0,0.2,0.4,0.6,0.8,1,1.2,1.4,1.6,1.8,2],"labels":false,"title":null}},"x2":{"field":"x2"},
"y":{"field":"y","type":"quantitative","scale":{"domain":[0,0.3]},"axis":{"orient":"right","values":[0,0.05,0.1,0.15,0.2,0.25,0.3],"labels":false,"title":null}},"y2":{"field":"y2"}}},
{"data":{"values":[{"x":-0.135,"y":0.33,"panel":"A"}]},"mark":{"type":"text","align":"left","baseline":"alphabetic","fontSize":30,"fontWeight":"bold","font":"Liberation Sans","clip":false},"encoding":{
"x":{"field":"x","type":"quantitative","axis":null},"y":{"field":"y","type":"quantitative","axis":null},"text":{"field":"panel"}}}
]},
{"width":1526,"height":153,"title":{"text":"Top view, mean TKE","dx":150,"offset":-37},"resolve":{"axis":{"x":"independent","y":"independent"}},"layer":[
{"data":{"name":"topHeat"},"mark":{"type":"rect"},"encoding":{
"x":{"field":"x","type":"quantitative","scale":{"domain":[0,2]},"axis":{"orient":"bottom","values":[0,0.2,0.4,0.6,0.8,1,1.2,1.4,1.6,1.8,2],"labelPadding":17,"title":"Length [m]","titlePadding":9}},"x2":{"field":"x2"},
"y":{"field":"y","type":"quantitative","scale":{"domain":[0.2,0.4]},"axis":{"orient":"left","values":[0.2,0.3,0.4],"labelPadding":16,"title":"Width [m]","titleX":-73,"titleY":84}},"y2":{"field":"y2"},
"color":{"field":"t","type":"quantitative","legend":null,"scale":{"domain":[0,0.005,0.0125,0.02,0.03,0.042,0.05],"range":["#2C3C90","#5870B2","#8093C6","#ABA5A8","#CFA58E","#DB5B36","#B9162A"]}}}},
{"data":{"name":"topBlobs"},"mark":{"type":"point","filled":true,"shape":"circle","color":"white","opacity":1,"size":55},"encoding":{
"x":{"field":"x","type":"quantitative","scale":{"domain":[0,2]},"axis":{"orient":"top","values":[0,0.2,0.4,0.6,0.8,1,1.2,1.4,1.6,1.8,2],"labels":false,"title":null}},
"y":{"field":"y","type":"quantitative","scale":{"domain":[0.2,0.4]},"axis":{"orient":"right","values":[0.2,0.3,0.4],"labels":false,"title":null}}}},
{"data":{"name":"topSpecks"},"mark":{"type":"point","filled":true,"shape":"circle","color":"white","opacity":1,"size":18},"encoding":{
"x":{"field":"x","type":"quantitative","axis":null},"y":{"field":"y","type":"quantitative","axis":null}}},
{"data":{"values":[{"x":-0.136,"y":0.421,"panel":"B"}]},"mark":{"type":"text","align":"left","baseline":"alphabetic","fontSize":31,"fontWeight":"bold","font":"Liberation Sans","clip":false},"encoding":{
"x":{"field":"x","type":"quantitative","axis":null},"y":{"field":"y","type":"quantitative","axis":null},"text":{"field":"panel"}}}
]},
{"width":1526,"height":97,"layer":[
{"data":{"name":"bar"},"mark":{"type":"rect","strokeWidth":1},"encoding":{
"x":{"field":"x","type":"quantitative","scale":{"domain":[-0.024256,0.07445],"nice":false},"axis":{"orient":"bottom","values":[0,0.0125,0.025,0.0375,0.05],"labelExpr":"datum.value==0||datum.value==0.05?datum.label:''","domain":false,"tickColor":"#7C8CA8","tickOpacity":0.6,"tickSize":-20,"tickWidth":1,"labelFontSize":33,"labelPadding":23,"title":"TKE [m²/s²]","titlePadding":-20}},"x2":{"field":"x2"},
"y":{"datum":0,"type":"quantitative","scale":{"domain":[0,2.425],"nice":false},"axis":null},"y2":{"datum":1},
"color":{"field":"x","type":"quantitative","legend":null,"scale":{"domain":[0,0.0125,0.025,0.0275,0.031,0.034,0.0375,0.0435,0.05],"range":["#40519F","#90ABD8","#D9DCE0","#E2D6CF","#F3CDB8","#F7B497","#EE8F70","#D9604B","#B9162A"]}},
"stroke":{"field":"x","type":"quantitative","legend":null,"scale":{"domain":[0,0.0125,0.025,0.0275,0.031,0.034,0.0375,0.0435,0.05],"range":["#40519F","#90ABD8","#D9DCE0","#E2D6CF","#F3CDB8","#F7B497","#EE8F70","#D9604B","#B9162A"]}}}},
{"data":{"values":[{"x":0,"x2":0.05}]},"mark":{"type":"rect","fill":null,"stroke":"#222222","strokeWidth":2},"encoding":{"x":{"field":"x","type":"quantitative"},"x2":{"field":"x2"},"y":{"datum":0,"type":"quantitative"},"y2":{"datum":1}}}
]}
]}
